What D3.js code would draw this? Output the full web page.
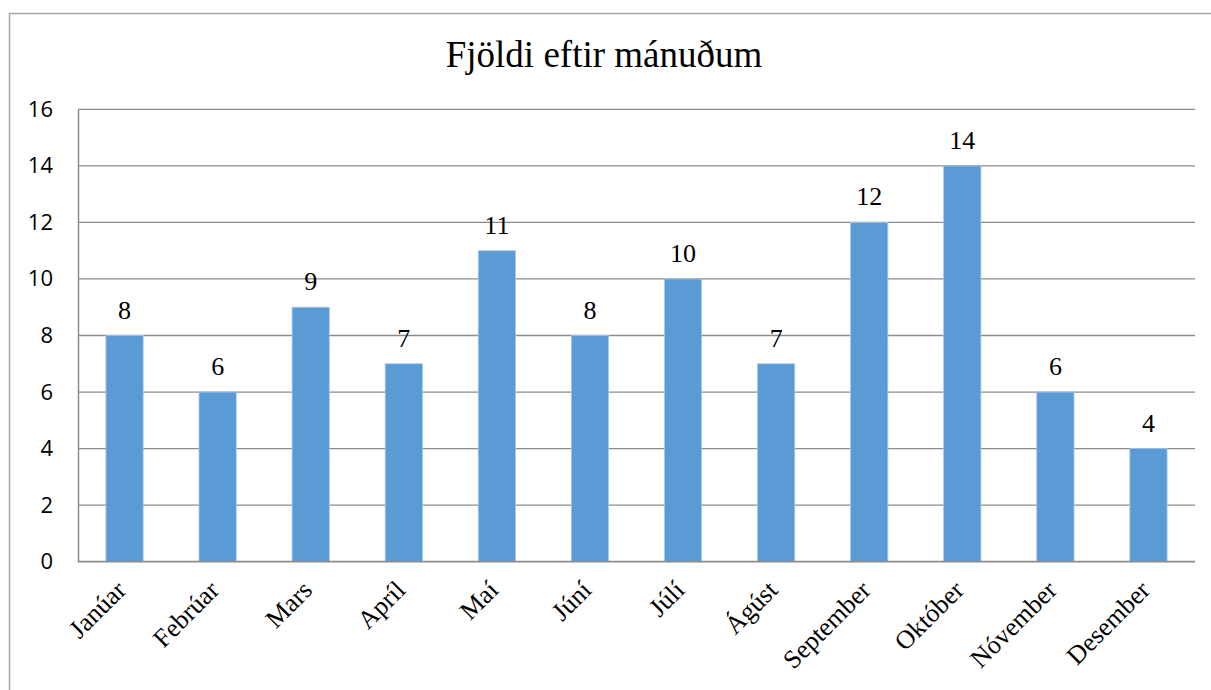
<!DOCTYPE html>
<html><head><meta charset="utf-8">
<script src="https://cdn.jsdelivr.net/npm/d3@7"></script>
<style>body{margin:0;background:#fff}svg{display:block}</style>
</head><body>
<svg id="c" width="1211" height="690"></svg>
<script>
const title = "Fjöldi eftir mánuðum";
const months = ["Janúar","Febrúar","Mars","Apríl","Maí","Júní","Júlí","Ágúst","September","Október","Nóvember","Desember"];
const counts = [8,6,9,7,11,8,10,7,12,14,6,4];
const yTicks = [0,2,4,6,8,10,12,14,16];

const svg = d3.select("#c");
const W = 1211, H = 690;
const m = {left:78, right:1195, top:109.3, bottom:561.7};
const serif = "'Liberation Serif', 'Times New Roman', serif";

// outer chart border
svg.append("rect").attr("x",9.5).attr("y",13.5).attr("width",W).attr("height",H)
  .attr("fill","none").attr("stroke","#a6a6a6").attr("stroke-width",1.5);

const x = d3.scaleBand().domain(months).range([m.left,m.right]).paddingInner(0.6).paddingOuter(0.3);
const y = d3.scaleLinear().domain([0,16]).range([m.bottom,m.top]);

// gridlines
svg.append("g").selectAll("line").data(yTicks.filter(d=>d>0)).join("line")
  .attr("x1",m.left).attr("x2",m.right).attr("y1",d=>y(d)).attr("y2",d=>y(d))
  .attr("stroke","#8c8c8c").attr("stroke-width",1.3);

// y axis
const ya = svg.append("g").attr("transform",`translate(${m.left},0)`)
  .call(d3.axisLeft(y).tickValues(yTicks).tickSize(0).tickPadding(25));
ya.select(".domain").attr("stroke","#8c8c8c").attr("stroke-width",1.5);
ya.selectAll("text").attr("font-family","'Open Sans', sans-serif").attr("font-size",22).attr("fill","#000");

// bars
svg.append("g").selectAll("rect").data(counts).join("rect")
  .attr("x",(d,i)=>x(months[i])).attr("width",x.bandwidth())
  .attr("y",d=>y(d)).attr("height",d=>y(0)-y(d))
  .attr("fill","#5b9bd5").attr("stroke","#a9c8ea").attr("stroke-width",0.8);

// x axis line
svg.append("line").attr("x1",m.left).attr("x2",m.right).attr("y1",y(0)).attr("y2",y(0))
  .attr("stroke","#8c8c8c").attr("stroke-width",1.8);

// value labels
svg.append("g").selectAll("text").data(counts).join("text")
  .attr("x",(d,i)=>x(months[i])+x.bandwidth()/2).attr("y",d=>y(d)-17)
  .attr("text-anchor","middle").style("font-family",serif)
  .style("font-size","26px").attr("fill","#000").text(d=>d);

// x labels
svg.append("g").selectAll("text").data(months).join("text")
  .attr("transform",d=>`translate(${x(d)+x.bandwidth()/2+3},${m.bottom+30}) rotate(-45)`)
  .attr("text-anchor","end").style("font-family",serif)
  .style("font-size","26px").attr("fill","#000").text(d=>d);

// title
svg.append("text").attr("x",604).attr("y",67).attr("text-anchor","middle")
  .style("font-family",serif).style("font-size","37px")
  .attr("fill","#000").text(title);
</script>
</body></html>
